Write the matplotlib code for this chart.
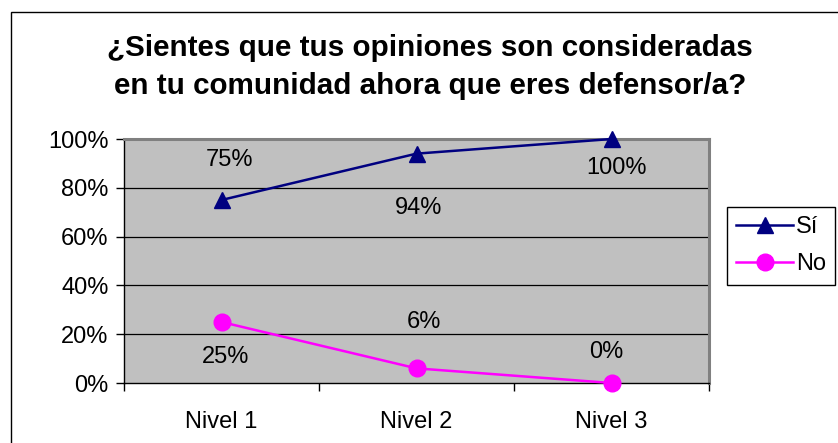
import matplotlib
matplotlib.use("Agg")
import matplotlib.pyplot as plt
from matplotlib.patches import Rectangle
from matplotlib.ticker import FixedLocator

plt.rcParams['font.family'] = ['Liberation Sans', 'DejaVu Sans']

categories = ["Nivel 1", "Nivel 2", "Nivel 3"]
si_values = [75, 94, 100]
no_values = [25, 6, 0]
si_label_offsets = [(8, 40), (2, -54), (5, -29)]
no_label_offsets = [(4, -35), (7, 46), (-5, 31)]
yticks = [0, 20, 40, 60, 80, 100]
title = "¿Sientes que tus opiniones son consideradas\nen tu comunidad ahora que eres defensor/a?"

W, H = 838, 443
fig = plt.figure(figsize=(W / 100, H / 100), dpi=100)
fig.patch.set_facecolor("white")

# outer chart frame (cut off at right/bottom)
fig.patches.append(Rectangle((11 / W, -0.1), 1.2, 1 - 12 / H + 0.1, transform=fig.transFigure,
                             fill=False, edgecolor="black", linewidth=1.0))

ax = fig.add_axes([124 / W, 1 - 383 / H, (709 - 124) / W, (383 - 139) / H])
ax.set_facecolor("#C0C0C0")
x = list(range(len(categories)))
ax.set_xlim(-0.5, len(categories) - 0.5)
ax.set_ylim(0, 100)

for v in yticks[1:-1]:
    ax.axhline(v, color="black", linewidth=0.9, zorder=1)

ax.plot(x, si_values, color="#000080", linewidth=1.8, marker="^", markersize=12,
        label="Sí", zorder=3, clip_on=False)
ax.plot(x, no_values, color="#FF00FF", linewidth=1.8, marker="o", markersize=12,
        label="No", zorder=3, clip_on=False)

FS = 17
for xi, v, off in zip(x, si_values, si_label_offsets):
    ax.annotate(f"{v}%", (xi, v), xytext=off, textcoords="offset pixels",
                ha="center", va="center", fontsize=FS, color="black", zorder=4)
for xi, v, off in zip(x, no_values, no_label_offsets):
    ax.annotate(f"{v}%", (xi, v), xytext=off, textcoords="offset pixels",
                ha="center", va="center", fontsize=FS, color="black", zorder=4)

ax.set_yticks(yticks)
ax.set_yticklabels([f"{v}%" for v in yticks], fontsize=FS)
ax.tick_params(axis="y", direction="out", length=6, width=1, pad=5, color="black")

ax.set_xticks(x)
ax.set_xticklabels(categories, fontsize=FS)
ax.tick_params(axis="x", which="major", length=0, pad=20)
ax.xaxis.set_minor_locator(FixedLocator([-0.5, 0.5, 1.5, 2.5]))
ax.tick_params(axis="x", which="minor", direction="out", length=6, width=1, color="black")

for side in ["top", "right"]:
    ax.spines[side].set_color("#808080")
    ax.spines[side].set_linewidth(2.2)
for side in ["left", "bottom"]:
    ax.spines[side].set_color("black")
    ax.spines[side].set_linewidth(1.0)

fig.text(430 / W, 1 - 67 / H, title, ha="center", va="center", fontsize=21.3,
         fontweight="bold", linespacing=1.45)

leg = ax.legend(loc="upper left", bbox_to_anchor=(727 / W, 1 - 207 / H),
                bbox_transform=fig.transFigure, fontsize=FS, frameon=True,
                fancybox=False, edgecolor="black", framealpha=1,
                handlelength=2.4, handletextpad=0.12, labelspacing=0.62,
                borderpad=0.4, borderaxespad=0)
leg.get_frame().set_linewidth(1.0)

fig.savefig("out.png", dpi=100, facecolor="white")
